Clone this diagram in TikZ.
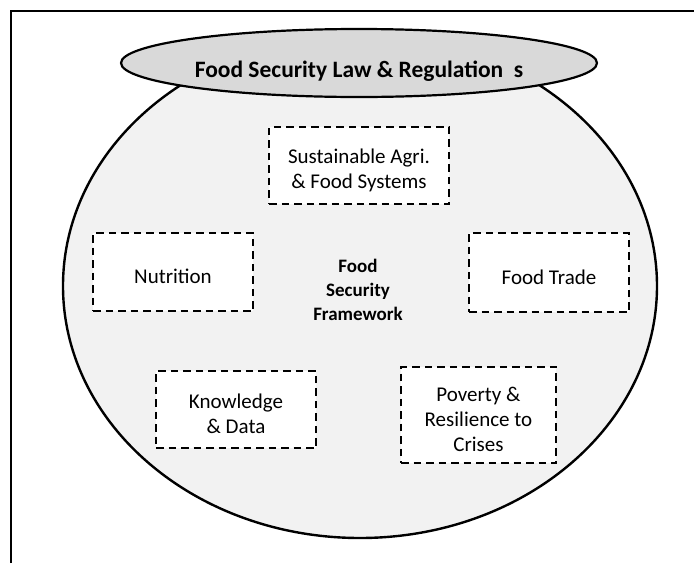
\documentclass[tikz,border=0pt]{standalone}
\usepackage{fontspec}
\setmainfont{Carlito}
\usetikzlibrary{shapes.geometric, positioning}
\definecolor{outercolor}{RGB}{242,242,242}
\definecolor{lawcolor}{RGB}{217,217,217}
\newcommand{\topstrut}[1]{\rule{0pt}{#1}}

\begin{document}
\begin{tikzpicture}[
    x=1pt, y=-1pt,
    outer/.style={draw, line width=2.4pt, fill=outercolor, ellipse, inner sep=0pt, minimum width=594pt, minimum height=504pt},
    law/.style={draw, line width=2.2pt, fill=lawcolor, ellipse, inner sep=0pt, minimum width=476pt, minimum height=68pt, font=\fontsize{23.5}{28}\selectfont\bfseries},
    pillar/.style={draw, line width=2.8pt, dash pattern=on 7.5pt off 5pt, fill=white, align=center, inner sep=0pt, font=\fontsize{21}{25}\selectfont},
    core/.style={align=center, font=\fontsize{19}{24}\selectfont\bfseries}
]
    \useasboundingbox (0,0) rectangle (694,563);
    % Frame
    \draw[line width=2.4pt] (11,563) -- (11,11) -- (694,11);

    % Framework
    \node[outer] (framework) at (360,286) {};
    \node[core] (frameworkLbl) at (358,290) {Food\\ Security\\ Framework};

    % Law & regulations
    \node[law] (lawReg) at (359,63) {\topstrut{33pt}Food Security Law \& Regulation\hspace{0.45em}s};

    % Pillars
    \node[pillar, minimum width=180pt, minimum height=77pt] (sustAgri) at (359,165.5) {\topstrut{24pt}Sustainable Agri.\\ \& Food Systems};
    \node[pillar, minimum width=160pt, minimum height=78pt] (nutrition) at (173,272) {\topstrut{24pt}Nutrition};
    \node[pillar, minimum width=160pt, minimum height=79pt] (foodTrade) at (549,272.5) {\topstrut{24pt}Food Trade};
    \node[pillar, minimum width=160pt, minimum height=77pt] (knowledge) at (236,409.5) {\topstrut{24pt}Knowledge\\ \& Data};
    \node[pillar, minimum width=155pt, minimum height=96pt] (poverty) at (478.5,415) {\topstrut{24pt}Poverty \&\\ Resilience to\\ Crises};
\end{tikzpicture}
\end{document}
